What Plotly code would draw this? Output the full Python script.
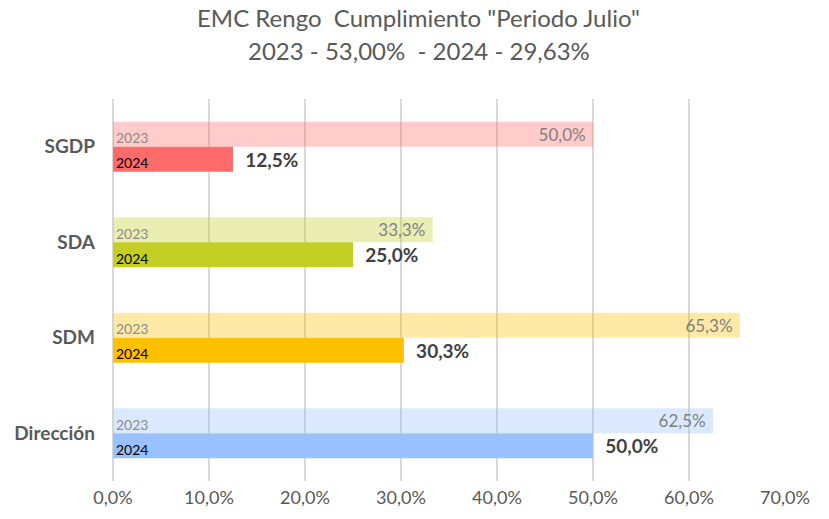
import plotly.graph_objects as go

categories = ["Dirección", "SDM", "SDA", "SGDP"]
values_2023 = [0.625, 0.653, 0.333, 0.50]
values_2024 = [0.50, 0.303, 0.25, 0.125]
colors = ["#99C0FF", "#FFC000", "#C4CF23", "#FF6B6B"]
year_labels = ["2023", "2024"]
x_ticks = [0, 0.1, 0.2, 0.3, 0.4, 0.5, 0.6, 0.7]
title_lines = ['EMC Rengo  Cumplimiento "Periodo Julio"', "2023 - 53,00%  - 2024 - 29,63%"]

FONT = "Lato, Liberation Sans, sans-serif"
W, H = 829, 519
ML, MR, MT, MB = 113, 44, 99, 38

fig = go.Figure()
fig.add_trace(go.Bar(
    y=categories, x=values_2024, orientation="h", name=year_labels[1],
    marker=dict(color=colors, line=dict(width=0)),
    texttemplate="\u00a0\u00a0%{x:.1%}", textposition="outside",
    textfont=dict(family=FONT, size=19, color="#404040", weight="bold"),
    cliponaxis=False,
))
fig.add_trace(go.Bar(
    y=categories, x=values_2023, orientation="h", name=year_labels[0],
    marker=dict(color=colors, opacity=0.35, line=dict(width=0)),
    texttemplate="%{x:.1%}\u00a0", textposition="inside", insidetextanchor="end",
    textfont=dict(family=FONT, size=17, color="#7f7f7f"),
    cliponaxis=False,
))

for c in categories:
    fig.add_annotation(x=0, y=c, text=year_labels[0], showarrow=False, xanchor="left",
                       yanchor="middle", yshift=9, xshift=1,
                       font=dict(family=FONT, size=14, color="#8c8c8c"))
    fig.add_annotation(x=0, y=c, text=year_labels[1], showarrow=False, xanchor="left",
                       yanchor="middle", yshift=-16, xshift=1,
                       font=dict(family=FONT, size=14, color="#000000"))

plot_h = H - MT - MB
for i, line in enumerate(title_lines):
    px_y = 18 + 32 * i
    fig.add_annotation(xref="paper", yref="paper",
                       x=(W / 2 + 4 - ML) / (W - ML - MR), y=(H - MB - px_y) / plot_h,
                       xanchor="center", yanchor="middle", showarrow=False, text=line,
                       font=dict(family=FONT, size=24, color="#595959"))

fig.update_layout(
    width=W, height=H,
    margin=dict(l=ML, r=MR, t=MT, b=MB),
    barmode="group", bargap=0.476, bargroupgap=0,
    showlegend=False,
    separators=",.",
    paper_bgcolor="white", plot_bgcolor="white",
    uniformtext=dict(minsize=17, mode="show"),
)
fig.update_xaxes(range=[0, 0.7], tickvals=x_ticks, tickformat=".1%",
                 showgrid=True, gridcolor="#d9d9d9", gridwidth=1.5,
                 zeroline=True, zerolinecolor="#d9d9d9", zerolinewidth=1.5,
                 showline=False, ticks="", ticklabelstandoff=4,
                 tickfont=dict(family=FONT, size=18, color="#595959"))
fig.update_yaxes(categoryorder="array", categoryarray=categories,
                 showgrid=False, zeroline=False, showline=False, ticks="",
                 ticklabelstandoff=17,
                 tickfont=dict(family=FONT, size=19, color="#595959", weight="bold"))

fig.write_html("out.html", config={"displayModeBar": False},
               post_script="document.body.style.margin='0';")
